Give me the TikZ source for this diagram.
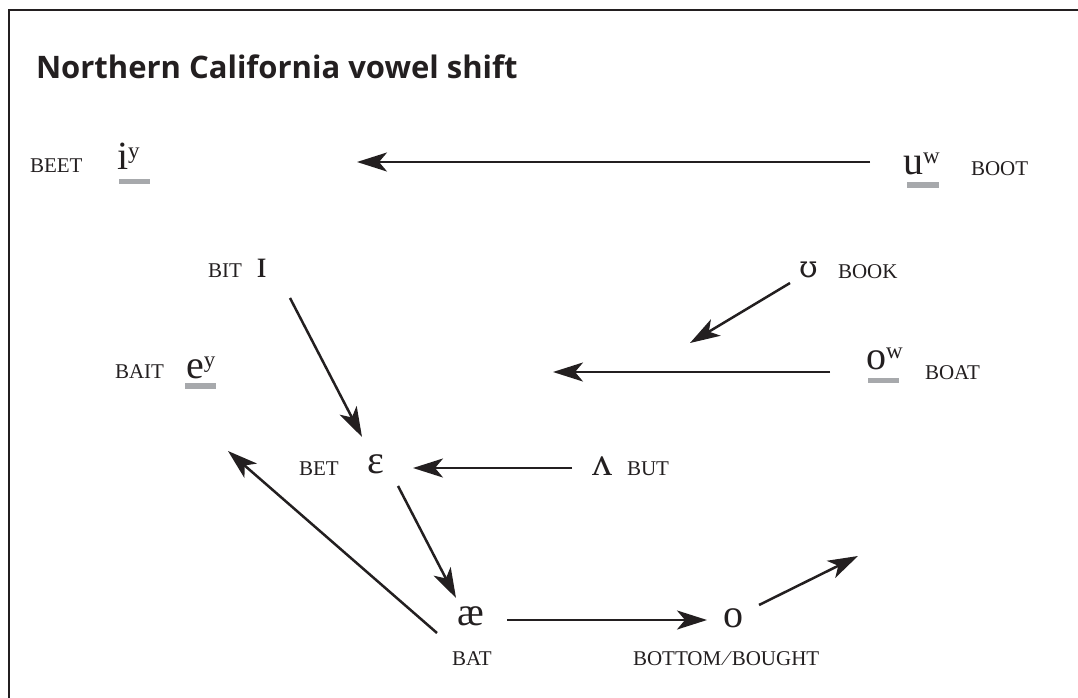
\documentclass[tikz,border=0pt]{standalone}
\usepackage{fontspec}
\setmainfont{Liberation Serif}
\newfontfamily\titlefont{Open Sans}
\newfontfamily\dvsfont{DejaVu Serif}
\usetikzlibrary{arrows.meta}
\definecolor{ink}{HTML}{231F20}
\definecolor{bargray}{HTML}{A7A9AC}
\newcommand{\smc}[1]{{\fontsize{21}{21}\selectfont #1}}
\newcommand{\ipa}[1]{{\fontsize{40}{40}\selectfont #1}}
\newcommand{\vsup}[1]{\raisebox{11pt}{\fontsize{23}{23}\selectfont #1}}
\tikzset{
  lbl/.style={inner sep=0pt, outer sep=0pt, anchor=base west, text=ink},
  vshift/.style={draw=ink, line width=2.5pt,
     -{Stealth[length=30pt,width=19pt,inset=8pt]}},
  ubar/.style={fill=bargray}
}
\begin{document}
\begin{tikzpicture}[x=1pt,y=-1pt]
\useasboundingbox (0,0) rectangle (1078,698);
\fill[white] (0,0) rectangle (1078,698);
\draw[ink, line width=2.6pt] (9,698) -- (9,10) -- (1078,10);
\node[lbl] (title) at (36,79) {\titlefont\bfseries\fontsize{31}{31}\selectfont Northern California vowel shift};
% row 1
\node[lbl] (beet) at (30,172) {\smc{BEET}};
\node[lbl] (iy) at (117,169) {\ipa{i}\vsup{y}};
\fill[ubar] (119,179) rectangle (150,184);
\node[lbl] (uw) at (903,174) {\ipa{u}\vsup{w}};
\fill[ubar] (907,182) rectangle (939,188);
\node[lbl] (boot) at (971,175) {\smc{BOOT}};
% row 2
\node[lbl] (bit) at (208,277) {\smc{BIT}};
\node[lbl] (ih) at (256,277) {\ipa{ɪ}};
\node[lbl] (uh) at (799,277) {{\dvsfont\fontsize{30}{30}\selectfont ʊ}};
\node[lbl] (book) at (838,278) {\smc{BOOK}};
% row 3
\node[lbl] (bait) at (115,378) {\smc{BAIT}};
\node[lbl] (ey) at (186,378) {\ipa{e}\vsup{y}};
\fill[ubar] (185,383) rectangle (216,389);
\node[lbl] (ow) at (866,369) {\ipa{o}\vsup{w}};
\fill[ubar] (868,378) rectangle (899,383);
\node[lbl] (boat) at (925,379) {\smc{BOAT}};
% row 4
\node[lbl] (bet) at (299,475) {\smc{BET}};
\node[lbl] (eh) at (367,473) {\ipa{ɛ}};
\node[lbl] (ah) at (592,475) {\ipa{ʌ}};
\node[lbl] (but) at (627,475) {\smc{BUT}};
% row 5
\node[lbl] (ae) at (457,625) {\ipa{æ}};
\node[lbl] (bat) at (452,665) {\smc{BAT}};
\node[lbl] (oo) at (723,627) {\ipa{o}};
\node[lbl] (bottom) at (633,665) {\smc{BOTTOM\,\char"2044\,BOUGHT}};
% arrow endpoints
\coordinate (uwS) at (870,162);  \coordinate (uwE) at (357,162);
\coordinate (ihS) at (290,298);  \coordinate (ihE) at (362,437);
\coordinate (uhS) at (790,283);  \coordinate (uhE) at (690,343);
\coordinate (owS) at (830,372);  \coordinate (owE) at (553,372);
\coordinate (ahS) at (572,468);  \coordinate (ahE) at (413,468);
\coordinate (ehS) at (398,486);  \coordinate (ehE) at (456,598);
\coordinate (aeS) at (437,633);  \coordinate (aeE) at (228,451);
\coordinate (aeS2) at (507,620); \coordinate (aeE2) at (707,620);
\coordinate (ooS) at (759,605);  \coordinate (ooE) at (858,556);
\draw[vshift] (uwS) -- (uwE);
\draw[vshift] (ihS) -- (ihE);
\draw[vshift] (uhS) -- (uhE);
\draw[vshift] (owS) -- (owE);
\draw[vshift] (ahS) -- (ahE);
\draw[vshift] (ehS) -- (ehE);
\draw[vshift] (aeS) -- (aeE);
\draw[vshift] (aeS2) -- (aeE2);
\draw[vshift] (ooS) -- (ooE);
\end{tikzpicture}
\end{document}
